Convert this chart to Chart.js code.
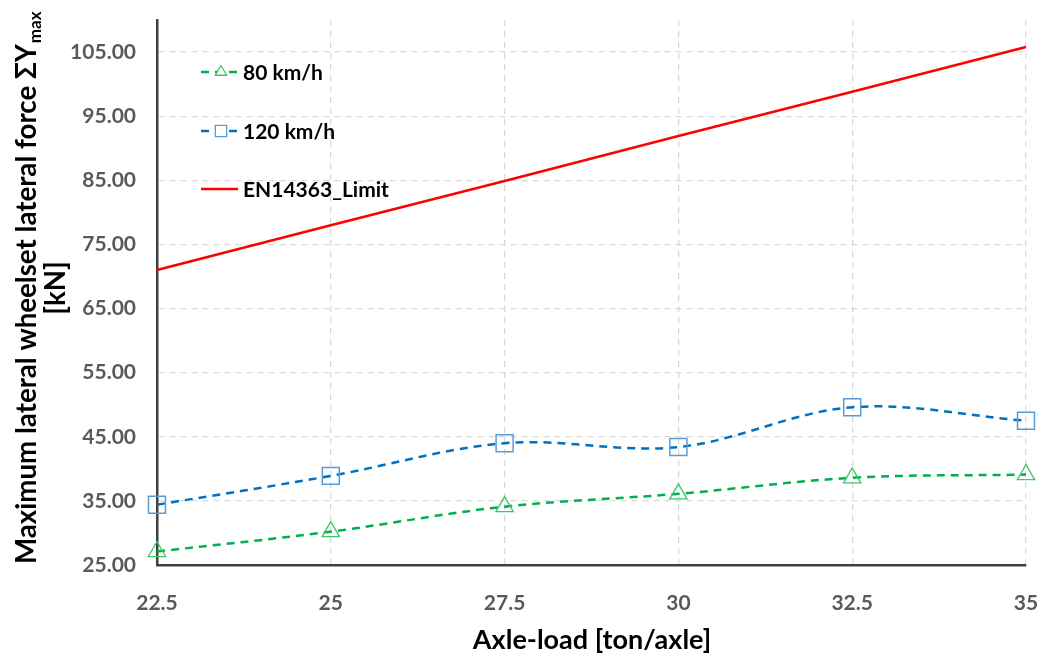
<!DOCTYPE html>
<html lang="en">
<head>
<meta charset="UTF-8">
<title>Lateral wheelset force vs axle-load</title>
<script src="https://cdn.jsdelivr.net/npm/chart.js"></script>
<style>
  html, body { margin: 0; padding: 0; background: #fff; }
  #wrap { width: 1043px; height: 662px; position: relative; }
</style>
</head>
<body>
<div id="wrap"><canvas id="chart"></canvas></div>
<script>
// data
var axleLoad = [22.5, 25, 27.5, 30, 32.5, 35];
var speed80 = [27.1, 30.2, 34.1, 36.1, 38.6, 39.1];
var speed120 = [34.4, 38.9, 44.0, 43.4, 49.6, 47.5];
var limitEN = [71.0, 78.0, 84.9, 91.9, 98.8, 105.8];
var yTicks = [25, 35, 45, 55, 65, 75, 85, 95, 105];
var seriesNames = ['80 km/h', '120 km/h', 'EN14363_Limit'];

var FONT = 'Lato';

function pts(ys) {
    return axleLoad.map(function (x, i) { return { x: x, y: ys[i] }; });
}

// scales: keep the plot box where the reference has it
function noPad(scale) {
    scale.paddingLeft = 0;
    scale.paddingRight = 0;
    scale.paddingTop = 0;
    scale.paddingBottom = 0;
}

// titles and legend drawn by hand (subscript + legend inside plot)
var decor = {
    id: 'decor',
    afterDraw: function (chart) {
        var ctx = chart.ctx;
        ctx.save();
        ctx.fillStyle = '#000';
        ctx.textBaseline = 'middle';

        // x title
        ctx.font = 'bold 27px ' + FONT;
        ctx.textAlign = 'center';
        ctx.fillText('Axle-load [ton/axle]', 592, 640);

        // y title, rotated; runs from y=565 up to y=12
        var main = 'Maximum lateral wheelset lateral force \u03A3Y';
        ctx.font = 'bold 26px ' + FONT;
        var m1 = ctx.measureText(main).width;
        ctx.font = 'bold 16px ' + FONT;
        var m2 = ctx.measureText('max').width;
        var k = 553 / (m1 + m2 + 1);
        var big = 26 * k, small = 16 * k;
        ctx.translate(27, 288);
        ctx.rotate(-Math.PI / 2);
        ctx.textAlign = 'left';
        var start = -276;
        ctx.font = 'bold ' + big + 'px ' + FONT;
        ctx.fillText(main, start, 0);
        var w1 = ctx.measureText(main).width;
        ctx.font = 'bold ' + small + 'px ' + FONT;
        ctx.fillText('max', start + w1 + 1, 9);
        ctx.font = 'bold ' + big + 'px ' + FONT;
        ctx.textAlign = 'center';
        ctx.fillText('[kN]', 0, 29);
        ctx.setTransform(1, 0, 0, 1, 0, 0);

        // legend
        var rows = [72, 131, 189];
        chart.data.datasets.forEach(function (ds, i) {
            var y = rows[i];
            ctx.save();
            ctx.strokeStyle = ds.borderColor;
            ctx.lineWidth = ds.borderWidth;
            ctx.setLineDash(ds.borderDash || []);
            ctx.beginPath();
            ctx.moveTo(201, y);
            ctx.lineTo(238, y);
            ctx.stroke();
            ctx.restore();
            if (ds.pointStyle && ds.pointRadius) {
                ctx.save();
                ctx.fillStyle = '#fff';
                ctx.strokeStyle = ds.pointBorderColor;
                ctx.lineWidth = 1.3;
                var r = ds.pointStyle === 'rect' ? 8 : 6.5;
                Chart.helpers.drawPoint(ctx, {
                    pointStyle: ds.pointStyle,
                    radius: r,
                    borderWidth: 1.3
                }, 221, y);
                ctx.restore();
            }
            ctx.fillStyle = '#000';
            ctx.font = 'bold 21px ' + FONT;
            ctx.textAlign = 'left';
            ctx.fillText(seriesNames[i], 243, y + 1);
        });
        ctx.restore();
    }
};

var ctx = document.getElementById('chart').getContext('2d');
var chart = new Chart(ctx, {
    type: 'line',
    data: {
        datasets: [{
            label: seriesNames[0],
            data: pts(speed80),
            borderColor: '#00b050',
            borderWidth: 2.5,
            borderDash: [8, 6],
            tension: 0.35,
            clip: false,
            pointStyle: 'triangle',
            pointRadius: 10,
            pointBorderWidth: 1.3,
            pointBorderColor: '#3cc864',
            pointBackgroundColor: 'rgba(255,255,255,0)'
        }, {
            label: seriesNames[1],
            data: pts(speed120),
            borderColor: '#0070c0',
            borderWidth: 2.5,
            borderDash: [8, 6],
            tension: 0.35,
            clip: false,
            pointStyle: 'rect',
            pointRadius: 12,
            pointBorderWidth: 1.5,
            pointBorderColor: '#5b9bd5',
            pointBackgroundColor: 'rgba(255,255,255,0)'
        }, {
            label: seriesNames[2],
            data: pts(limitEN),
            borderColor: '#ff0000',
            borderWidth: 2.5,
            tension: 0,
            clip: false,
            pointRadius: 0
        }]
    },
    options: {
        responsive: true,
        maintainAspectRatio: false,
        animation: false,
        layout: { padding: { top: 20, right: 17, left: 0, bottom: 0 } },
        plugins: {
            legend: { display: false },
            tooltip: { enabled: false }
        },
        scales: {
            x: {
                type: 'linear',
                min: 22.5,
                max: 35,
                afterBuildTicks: function (scale) {
                    scale.ticks = axleLoad.map(function (v) { return { value: v }; });
                },
                afterFit: function (scale) { scale.height = 97; noPad(scale); },
                ticks: {
                    padding: 26,
                    color: '#595959',
                    font: { family: FONT, size: 21, weight: 'bold' },
                    maxRotation: 0,
                    callback: function (v) { return String(v); }
                },
                grid: { color: '#d9d9d9', lineWidth: 1.3, drawTicks: false },
                border: { display: true, color: '#404040', width: 2.5, dash: [6, 5] }
            },
            y: {
                min: 25,
                max: 110,
                afterBuildTicks: function (scale) {
                    scale.ticks = yTicks.map(function (v) { return { value: v }; });
                },
                afterFit: function (scale) { scale.width = 157; noPad(scale); },
                ticks: {
                    padding: 21,
                    color: '#595959',
                    font: { family: FONT, size: 21, weight: 'bold' },
                    callback: function (v) { return Number(v).toFixed(2); }
                },
                grid: { color: '#d9d9d9', lineWidth: 1.3, drawTicks: false },
                border: { display: true, color: '#404040', width: 2.5, dash: [6, 5] }
            }
        }
    },
    plugins: [decor]
});
</script>
</body>
</html>
